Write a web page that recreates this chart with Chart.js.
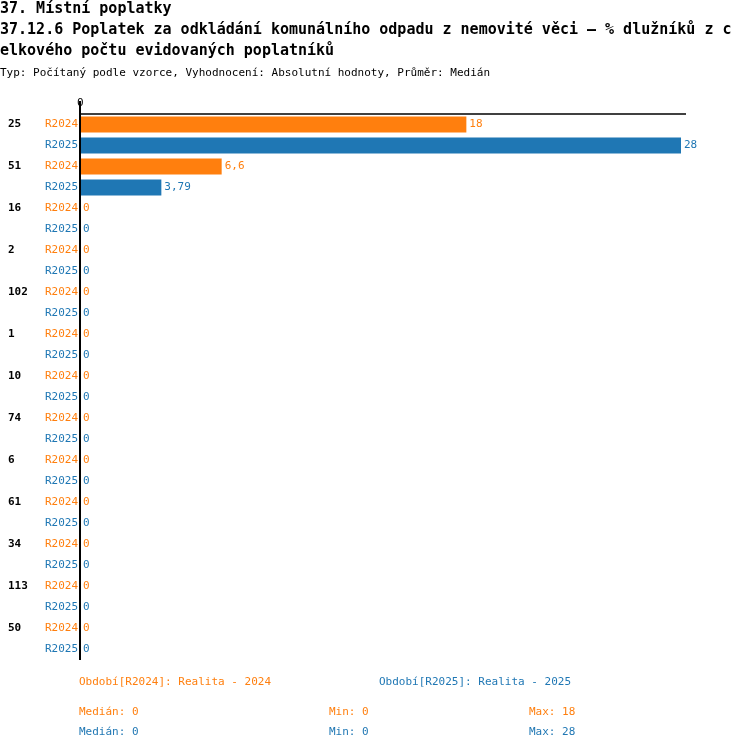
<!DOCTYPE html><html><head><meta charset="utf-8">
<script src="https://cdn.jsdelivr.net/npm/chart.js@4"></script>
<style>body{margin:0;background:#fff}#c{position:absolute;left:0;top:0}</style></head><body>
<canvas id="c" width="750" height="750"></canvas>
<script>
const groups=["25","51","16","2","102","1","10","74","6","61","34","113","50"];
const r2024=[18,6.6,0,0,0,0,0,0,0,0,0,0,0];
const r2025=[28,3.79,0,0,0,0,0,0,0,0,0,0,0];
const seriesNames=["R2024","R2025"];
const colors=["#ff7f0e","#1f77b4"];
const fmt=v=>String(v).replace('.',',');
const labels=[],data=[],bg=[];
groups.forEach((g,i)=>{labels.push(g+"|R2024");data.push(r2024[i]);bg.push(colors[0]);labels.push(g+"|R2025");data.push(r2025[i]);bg.push(colors[1]);});
const MONO='"DejaVu Sans Mono", "Liberation Mono", monospace';
const deco={id:'deco',afterDraw(ch){
 const c=ch.ctx,x=ch.scales.x,y=ch.scales.y,a=ch.chartArea;
 c.save();c.textBaseline='middle';
 c.fillStyle='#000';c.font='bold 15px '+MONO;c.textAlign='left';
 c.fillText('37. Místní poplatky',0,9);
 c.fillText('37.12.6 Poplatek za odkládání komunálního odpadu z nemovité věci – % dlužníků z c',0,30);
 c.fillText('elkového počtu evidovaných poplatníků',0,51);
 c.font='11px '+MONO;c.fillText('Typ: Počítaný podle vzorce, Vyhodnocení: Absolutní hodnoty, Průměr: Medián',0,73);
 c.fillText('0',x.getPixelForValue(0)-3,103);
 c.strokeStyle='#000';c.lineWidth=1.5;c.beginPath();c.moveTo(a.left,a.top);c.lineTo(686,a.top);c.stroke();
 c.lineWidth=2;c.beginPath();c.moveTo(a.left,a.top-13);c.lineTo(a.left,a.bottom);c.stroke();
 const meta=ch.getDatasetMeta(0);
 data.forEach((v,i)=>{const yy=y.getPixelForValue(i),col=bg[i];
  c.font='11px '+MONO;c.fillStyle=col;c.textAlign='right';c.fillText(seriesNames[i%2],78,yy);
  c.textAlign='left';c.fillText(fmt(v),x.getPixelForValue(v)+3,yy);
  if(i%2===0){c.fillStyle='#000';c.font='bold 11px '+MONO;c.fillText(groups[i/2],8,yy);}
 });
 c.font='11px '+MONO;c.textAlign='left';
 c.fillStyle=colors[0];c.fillText('Období[R2024]: Realita - 2024',79,682);
 c.fillText('Medián: 0',79,712);c.fillText('Min: 0',329,712);c.fillText('Max: '+Math.max(...r2024),529,712);
 c.fillStyle=colors[1];c.fillText('Období[R2025]: Realita - 2025',379,682);
 c.fillText('Medián: 0',79,732);c.fillText('Min: 0',329,732);c.fillText('Max: '+Math.max(...r2025),529,732);
 c.restore();}};
new Chart(document.getElementById('c'),{type:'bar',data:{labels,datasets:[{data,backgroundColor:bg,barPercentage:0.76,categoryPercentage:1}]},
options:{indexAxis:'y',responsive:false,animation:false,events:[],
layout:{padding:{left:80,right:69,top:114,bottom:90}},
plugins:{legend:{display:false},tooltip:{enabled:false}},
scales:{x:{display:false,min:0,max:28},y:{display:false}}},plugins:[deco]});
</script></body></html>
